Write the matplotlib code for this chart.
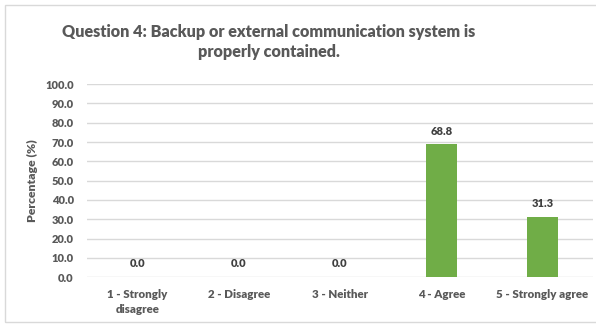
import matplotlib.pyplot as plt
from matplotlib.patches import Rectangle

# Survey responses for question 4
categories = ['1 - Strongly\ndisagree', '2 - Disagree', '3 - Neither', '4 - Agree', '5 - Strongly agree']
percent = [0.0, 0.0, 0.0, 68.8, 31.3]
yticks = [0, 10, 20, 30, 40, 50, 60, 70, 80, 90, 100]

plt.rcParams['font.family'] = ['Lato', 'DejaVu Sans']
W = 'heavy'

fig = plt.figure(figsize=(5.96, 3.26), dpi=100)
ax = fig.add_axes([0.146, 0.150, 0.849, 0.592])

# Chart frame
fig.patches.append(Rectangle((5/596, 1-322/326), 1.0, 317/326, transform=fig.transFigure,
                             fill=False, edgecolor='#D9D9D9', linewidth=1.0))

x = range(len(categories))
ax.bar(x, percent, width=0.31, color='#70AD47', zorder=3)
for xi, v in zip(x, percent):
    ax.annotate(f'{v:.1f}', (xi, v), xytext=(0, 5.5), textcoords='offset points',
                ha='center', va='bottom', fontsize=8, fontweight=W, color='#404040')

ax.set_xlim(-0.5, len(categories) - 0.5)
ax.set_ylim(0, 100)
ax.set_yticks(yticks)
ax.set_yticklabels([f'{t:.1f}' for t in yticks])
ax.set_xticks(list(x))
ax.set_xticklabels(categories, linespacing=1.45)
ax.grid(axis='y', color='#D9D9D9', linewidth=1.0, zorder=0)
for s in ax.spines.values():
    s.set_visible(False)
ax.tick_params(axis='both', length=0, labelcolor='#595959')
ax.tick_params(axis='x', pad=8.5, labelsize=8.3)
ax.tick_params(axis='y', pad=9.5, labelsize=8)
for lbl in ax.get_xticklabels() + ax.get_yticklabels():
    lbl.set_fontweight(W)
ax.set_ylabel('Percentage (%)', fontsize=8.8, fontweight=W, color='#595959', labelpad=5)

fig.text(269/596, 1-42/326, 'Question 4: Backup or external communication system is\nproperly contained.',
         ha='center', va='center', fontsize=11.6, fontweight=W, color='#595959', linespacing=1.3)

fig.savefig('out.png', dpi=100)
